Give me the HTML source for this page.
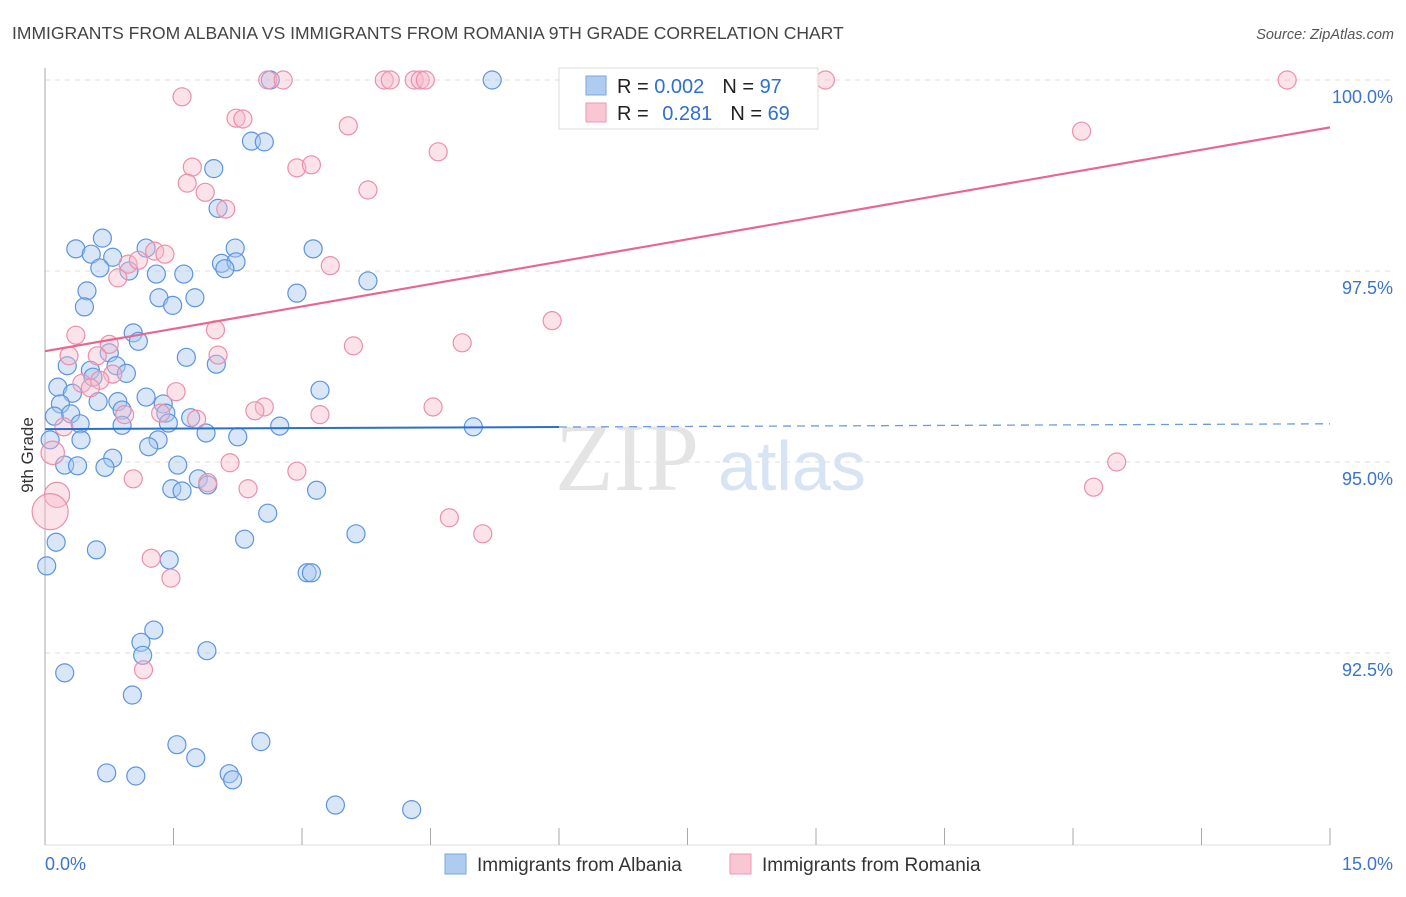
<!DOCTYPE html>
<html><head><meta charset="utf-8"><style>
body{margin:0;background:#fff;font-family:"Liberation Sans",sans-serif}
</style></head><body>
<svg width="1406" height="892" xmlns="http://www.w3.org/2000/svg" font-family="Liberation Sans, sans-serif">
<text x="12" y="39" font-size="17.5" fill="#444">IMMIGRANTS FROM ALBANIA VS IMMIGRANTS FROM ROMANIA 9TH GRADE CORRELATION CHART</text>
<text x="1394" y="39" font-size="14.5" fill="#555" text-anchor="end" font-style="italic">Source: ZipAtlas.com</text>
<g id="grid"></g>
<g id="axes"></g>
<text x="555" y="490" font-size="96" fill="#e4e4e4" font-family="Liberation Serif, serif">ZIP</text>
<text x="718" y="490" font-size="70" fill="#d6e4f4">atlas</text>
<g id="pts"></g>
<g id="trend"></g>
<g>
<rect x="559" y="68" width="259" height="61" fill="#fff" fill-opacity="0.9" stroke="#ddd"/>
<rect x="586" y="76" width="20" height="19" fill="#aecbf0" stroke="#7aa6e0"/>
<rect x="586" y="103" width="20" height="19" fill="#f9c6d4" stroke="#ee9ab2"/>
<text x="617" y="93" font-size="20" fill="#222">R = <tspan fill="#2f6fd0">0.002</tspan><tspan dx="18">N = </tspan><tspan fill="#2f6fd0">97</tspan></text>
<text x="617" y="120" font-size="20" fill="#222">R = <tspan dx="8" fill="#2f6fd0">0.281</tspan><tspan dx="18">N = </tspan><tspan fill="#2f6fd0">69</tspan></text>
</g>
<g>
<rect x="445" y="854" width="21" height="20" fill="#aecbf0" stroke="#7aa6e0"/>
<text x="477" y="871" font-size="19" fill="#333">Immigrants from Albania</text>
<rect x="730" y="854" width="21" height="20" fill="#f9c6d4" stroke="#ee9ab2"/>
<text x="762" y="871" font-size="19" fill="#333">Immigrants from Romania</text>
</g>
<text transform="translate(33,455) rotate(-90)" font-size="17" fill="#333" text-anchor="middle">9th Grade</text>
</svg>
<script>
const blueX=[5.22,2.63,2.41,2.56,1.97,2.02,0.67,0.36,0.54,1.18,2.22,3.13,0.79,0.64,0.98,1.30,1.62,2.06,2.23,2.10,3.77,0.49,0.46,1.33,1.49,1.75,2.94,1.03,1.09,0.75,1.65,2.00,0.26,0.53,0.83,0.95,0.56,0.15,0.32,3.21,1.18,0.62,0.85,0.18,1.38,0.90,0.11,0.30,1.41,1.70,1.44,0.41,0.90,2.74,5.00,1.88,2.25,1.32,1.21,0.42,0.06,0.79,0.23,0.38,0.70,1.55,1.79,1.90,1.48,1.60,3.17,2.60,3.63,2.33,0.13,0.60,1.45,0.02,3.06,3.11,1.27,1.12,1.14,1.89,0.23,1.02,1.54,2.52,1.76,0.72,1.06,2.15,2.19,3.39,4.28];
const blueY=[100,100,99.20,99.19,98.84,98.32,97.93,97.79,97.72,97.80,97.80,97.79,97.68,97.54,97.50,97.46,97.46,97.60,97.62,97.53,97.37,97.24,97.03,97.15,97.05,97.15,97.21,96.69,96.58,96.43,96.37,96.28,96.26,96.20,96.26,96.16,96.11,95.98,95.90,95.94,95.85,95.79,95.79,95.76,95.76,95.68,95.60,95.63,95.64,95.58,95.51,95.50,95.48,95.47,95.46,95.38,95.33,95.29,95.20,95.29,95.29,95.05,94.96,94.95,94.93,94.96,94.78,94.70,94.65,94.62,94.63,94.33,94.06,93.99,93.95,93.85,93.72,93.64,93.55,93.55,92.80,92.64,92.47,92.53,92.24,91.95,91.30,91.34,91.13,90.93,90.89,90.92,90.84,90.51,90.45];
const pinkX=[1.60,2.60,2.78,3.96,4.03,4.31,4.38,4.44,9.11,14.50,2.23,2.31,3.54,12.10,4.59,2.94,3.11,1.72,1.66,1.87,3.77,2.11,1.28,1.40,0.97,1.09,3.33,0.85,5.92,0.36,1.99,3.60,4.87,0.75,0.28,2.02,0.61,0.79,0.64,0.43,0.53,1.53,2.56,2.45,4.53,0.93,1.35,1.77,3.21,0.22,0.09,2.16,2.94,12.51,1.03,1.90,2.37,12.24,0.14,0.06,4.72,5.11,1.24,1.47,1.15];
const pinkY=[99.78,100,100,100,100,100,100,100,100,100,99.50,99.49,99.40,99.33,99.06,98.85,98.89,98.86,98.65,98.53,98.56,98.31,97.76,97.72,97.59,97.64,97.57,97.41,96.85,96.66,96.73,96.52,96.56,96.54,96.39,96.40,96.39,96.15,96.07,96.03,95.97,95.92,95.72,95.67,95.72,95.62,95.64,95.56,95.62,95.46,95.12,94.99,94.88,95.00,94.78,94.73,94.65,94.67,94.57,94.35,94.27,94.06,93.74,93.48,92.28];
const pinkSize=[1,1,1,1,1,1,1,1,1,1,1,1,1,1,1,1,1,1,1,1,1,1,1,1,1,1,1,1,1,1,1,1,1,1,1,1,1,1,1,1,1,1,1,1,1,1,1,1,1,1,1.3,1,1,1,1,1,1,1,1.4,2,1,1,1,1,1];
const yTicks=[100,97.5,95,92.5];
const yTickLabels=["100.0%","97.5%","95.0%","92.5%"];
const xTicks=[0,1.5,3,4.5,6,7.5,9,10.5,12,13.5,15];
const blueTrend=[95.43,95.50];
const pinkTrend=[96.45,99.38];
const NS="http://www.w3.org/2000/svg";
const X=v=>45+v/15*1285, Y=v=>80+(100-v)*76.4;
function mk(t,a,p){const e=document.createElementNS(NS,t);for(const k in a)e.setAttribute(k,a[k]);p.appendChild(e);return e;}
const grid=document.getElementById('grid'),axes=document.getElementById('axes'),pts=document.getElementById('pts'),tr=document.getElementById('trend');
yTicks.forEach((v,i)=>{
 const l=mk('line',{x1:45,x2:1393,y1:Y(v),y2:Y(v),stroke:'#ddd','stroke-dasharray':'5,5'},grid);
 
 
 const t=mk('text',{x:1393,y:Y(v)+23,'font-size':18,fill:'#3a74d0','text-anchor':'end'},axes);
 t.textContent=yTickLabels[i];
 
 
});
mk('line',{x1:45,x2:45,y1:68,y2:845,stroke:'#aaa'},axes);
mk('line',{x1:45,x2:1330,y1:845,y2:845,stroke:'#ddd'},axes);
xTicks.forEach(v=>{const l=mk('line',{x1:X(v),x2:X(v),y1:828,y2:845,stroke:'#aaa'},axes);
 
 });
let t0=mk('text',{x:45,y:870,'font-size':18,fill:'#3a74d0'},axes);t0.textContent='0.0%';


let t1=mk('text',{x:1393,y:870,'font-size':18,fill:'#3a74d0','text-anchor':'end'},axes);t1.textContent='15.0%';


blueX.forEach((v,i)=>{const c=mk('circle',{cx:X(v),cy:Y(blueY[i]),r:9,fill:'#a9c8f0','fill-opacity':0.45,stroke:'#5b95e0','stroke-width':1.2},pts);
 
 });
pinkX.forEach((v,i)=>{const c=mk('circle',{cx:X(v),cy:Y(pinkY[i]),r:9*pinkSize[i],fill:'#f7b9cb','fill-opacity':0.4,stroke:'#ec8fab','stroke-width':1.2},pts);
 
 });
const bAt=x=>blueTrend[0]+(blueTrend[1]-blueTrend[0])*x/15;
let b1=mk('line',{x1:X(0),y1:Y(bAt(0)),x2:X(6),y2:Y(bAt(6)),stroke:'#2a6fd0','stroke-width':2},tr);


let b2=mk('line',{x1:X(6),y1:Y(bAt(6)),x2:X(15),y2:Y(bAt(15)),stroke:'#6a9be0','stroke-width':1.3,'stroke-dasharray':'8,6'},tr);


let p=mk('line',{x1:X(0),y1:Y(pinkTrend[0]),x2:X(15),y2:Y(pinkTrend[1]),stroke:'#e8668f','stroke-width':2.2},tr);


</script>
</body></html>
